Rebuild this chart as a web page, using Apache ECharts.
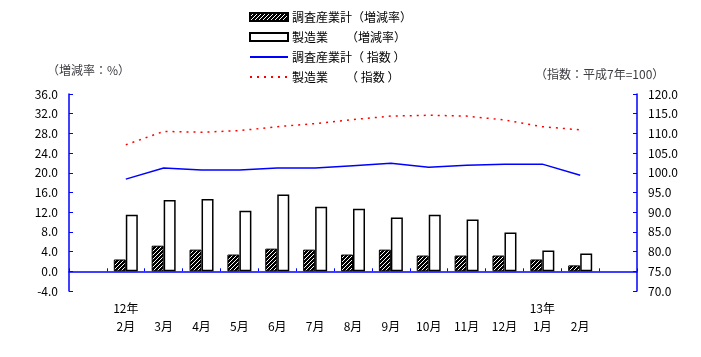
<!DOCTYPE html>
<html><head><meta charset="utf-8">
<script src="https://cdn.jsdelivr.net/npm/echarts@6/dist/echarts.min.js"></script>
<style>html,body{margin:0;padding:0;background:#fff}#c{width:701px;height:357px}</style>
</head><body><div id="c"></div>
<script>
const months = ['12年\n2月','\n3月','\n4月','\n5月','\n6月','\n7月','\n8月','\n9月','\n10月','\n11月','\n12月','13年\n1月','\n2月'];
const allRate  = [2.4, 5.2, 4.4, 3.4, 4.6, 4.4, 3.4, 4.4, 3.2, 3.2, 3.2, 2.4, 1.2];
const mfgRate  = [11.5, 14.5, 14.7, 12.3, 15.6, 13.1, 12.7, 10.9, 11.5, 10.5, 7.9, 4.2, 3.6];
const allIndex = [98.4, 101.2, 100.7, 100.7, 101.2, 101.2, 101.8, 102.4, 101.4, 101.9, 102.2, 102.2, 99.4];
const mfgIndex = [107.1, 110.5, 110.3, 110.7, 111.7, 112.5, 113.5, 114.4, 114.6, 114.4, 113.4, 111.7, 110.9];
const leftTicks = {min: -4, max: 36, interval: 4};
const rightTicks = {min: 70, max: 120, interval: 5};
const names = ['調査産業計（増減率）','製造業　　（増減率）','調査産業計（ 指数 ）','製造業　　（ 指数 ）'];

const pad = a => [null].concat(a, [null]);
const cats = [''].concat(months, ['']);

const pc = document.createElement('canvas');
pc.width = 4; pc.height = 4;
const g = pc.getContext('2d');
g.fillStyle = '#000'; g.fillRect(0,0,4,4);
g.fillStyle = '#fff';
g.fillRect(3,0,1,1); g.fillRect(2,1,1,1); g.fillRect(1,2,1,1); g.fillRect(0,3,1,1);

const FONT = '"Noto Sans CJK JP", sans-serif';
const blue = '#0000ff';
const chart = echarts.init(document.getElementById('c'), null, {renderer: 'canvas'});
chart.setOption({
  animation: false,
  textStyle: {fontFamily: FONT, color: '#000'},
  title: [
    {text: '（増減率：%）', left: 47, top: 64, padding: 0, textStyle: {fontSize: 12, fontWeight: 'normal', fontFamily: FONT}},
    {text: '（指数：平成7年=100）', left: 535, top: 68, padding: 0, textStyle: {fontSize: 12, fontWeight: 'normal', fontFamily: FONT}}
  ],
  legend: {
    orient: 'vertical', left: 249, top: 11, padding: 0, itemWidth: 38, itemHeight: 8, itemGap: 8,
    textStyle: {fontSize: 12, fontFamily: FONT, color: '#000', padding: [0,0,0,-1]},
    data: [
      {name: names[0], icon: 'rect'},
      {name: names[1], icon: 'rect'},
      {name: names[2], itemStyle: {opacity: 0}},
      {name: names[3], itemStyle: {opacity: 0}}
    ]
  },
  grid: {left: 69, right: 64, top: 94, bottom: 66},
  xAxis: [
    {type: 'category', data: cats, position: 'bottom',
     axisLine: {show: false}, axisTick: {show: false},
     axisLabel: {interval: 0, fontSize: 12, color: '#000', lineHeight: 18, margin: 8, fontFamily: FONT}},
    {type: 'category', data: cats, position: 'bottom',
     axisLine: {show: true, onZero: true, onZeroAxisIndex: 0, lineStyle: {color: blue, width: 1.5}},
     axisTick: {show: true, inside: true, length: 3, interval: 0, lineStyle: {color: blue}},
     axisLabel: {show: false}}
  ],
  yAxis: [
    {type: 'value', min: leftTicks.min, max: leftTicks.max, interval: leftTicks.interval, position: 'left',
     axisLine: {show: true, lineStyle: {color: blue, width: 1.5}},
     axisTick: {show: true, inside: true, length: 4, lineStyle: {color: blue}},
     splitLine: {show: false},
     axisLabel: {color: '#000', fontSize: 12, margin: 11, formatter: v => v.toFixed(1), fontFamily: FONT}},
    {type: 'value', min: rightTicks.min, max: rightTicks.max, interval: rightTicks.interval, position: 'right',
     axisLine: {show: true, lineStyle: {color: blue, width: 1.5}},
     axisTick: {show: true, inside: true, length: 4, lineStyle: {color: blue}},
     splitLine: {show: false},
     axisLabel: {color: '#000', fontSize: 12, margin: 11, formatter: v => v.toFixed(1), fontFamily: FONT}}
  ],
  series: [
    {name: names[0], type: 'bar', xAxisIndex: 0, yAxisIndex: 0, data: pad(allRate), barWidth: 12, barGap: '0%',
     itemStyle: {color: {image: pc, repeat: 'repeat'}, borderColor: '#000', borderWidth: 1}},
    {name: names[1], type: 'bar', xAxisIndex: 0, yAxisIndex: 0, data: pad(mfgRate), barWidth: 12, barGap: '0%',
     itemStyle: {color: '#fff', borderColor: '#000', borderWidth: 1.5}},
    {name: names[2], type: 'line', xAxisIndex: 0, yAxisIndex: 1, data: pad(allIndex), symbol: 'none',
     lineStyle: {color: blue, width: 1.5}, itemStyle: {color: blue}},
    {name: names[3], type: 'line', xAxisIndex: 0, yAxisIndex: 1, data: pad(mfgIndex), symbol: 'none',
     lineStyle: {color: '#ff0000', width: 1.5, type: [2, 5]}, itemStyle: {color: '#ff0000'}}
  ]
});
</script></body></html>
